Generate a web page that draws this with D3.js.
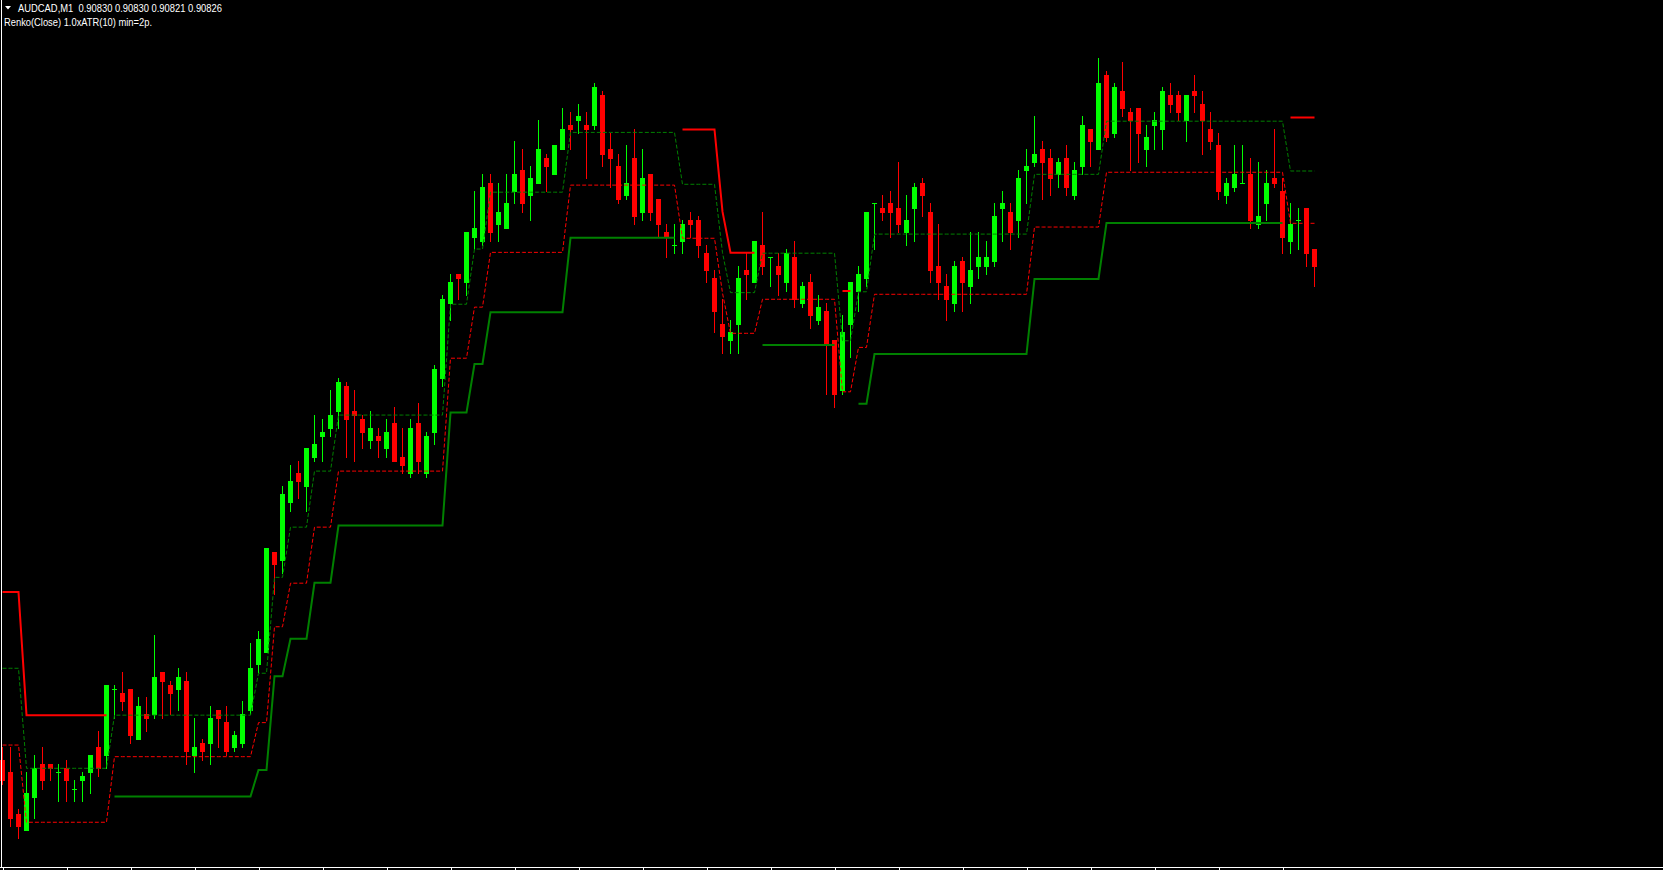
<!DOCTYPE html>
<html><head><meta charset="utf-8">
<script src="https://cdn.jsdelivr.net/npm/d3@7"></script>
<style>
html,body{margin:0;padding:0;background:#000;overflow:hidden}
svg{display:block}
</style></head><body>
<svg id="chart" width="1663" height="870"></svg>
<script>
// ---- data ----
const symbolTitle = "AUDCAD,M1";
const indicatorLabel = "Renko(Close) 1.0xATR(10) min=2p.";

const open = [0.90707,0.90704,0.90694,0.90690,0.90698,0.90706,0.90706,0.90704,0.90705,0.90700,
0.90702,0.90704,0.90710,0.90708,0.90724,0.90723,0.90724,0.90712,0.90718,0.90718,
0.90728,0.90725,0.90724,0.90726,0.90708,0.90711,0.90711,0.90719,0.90716,0.90710,
0.90711,0.90719,0.90730,0.90733,0.90757,0.90755,0.90769,0.90776,0.90773,0.90780,
0.90785,0.90787,0.90791,0.90797,0.90791,0.90789,0.90784,0.90785,0.90782,0.90788,
0.90780,0.90776,0.90788,0.90776,0.90786,0.90799,0.90817,0.90824,0.90822,0.90833,
0.90832,0.90846,0.90836,0.90835,0.90844,0.90849,0.90843,0.90846,0.90852,0.90848,
0.90854,0.90860,0.90861,0.90860,0.90860,0.90867,0.90854,0.90850,0.90843,0.90852,
0.90839,0.90848,0.90842,0.90834,0.90831,0.90832,0.90837,0.90837,0.90829,0.90823,
0.90812,0.90808,0.90812,0.90825,0.90822,0.90831,0.90828,0.90826,0.90822,0.90828,
0.90817,0.90822,0.90813,0.90815,0.90808,0.90796,0.90812,0.90820,0.90823,0.90841,
0.90840,0.90841,0.90840,0.90834,0.90840,0.90846,0.90839,0.90826,0.90821,0.90817,
0.90827,0.90821,0.90826,0.90826,0.90827,0.90840,0.90839,0.90837,0.90849,0.90851,
0.90854,0.90852,0.90848,0.90852,0.90843,0.90850,0.90859,0.90854,0.90872,0.90858,
0.90868,0.90863,0.90864,0.90854,0.90860,0.90859,0.90867,0.90867,0.90861,0.90868,
0.90865,0.90859,0.90855,0.90843,0.90845,0.90846,0.90848,0.90836,0.90841,0.90847,
0.90844,0.90832,0.90837,0.90840,0.90830];
const high = [0.90710,0.90710,0.90695,0.90704,0.90708,0.90710,0.90706,0.90706,0.90707,0.90702,
0.90704,0.90708,0.90714,0.90725,0.90725,0.90728,0.90724,0.90722,0.90722,0.90737,
0.90728,0.90726,0.90729,0.90728,0.90717,0.90712,0.90720,0.90719,0.90720,0.90714,
0.90721,0.90735,0.90738,0.90758,0.90757,0.90773,0.90778,0.90779,0.90782,0.90790,
0.90789,0.90796,0.90799,0.90798,0.90796,0.90790,0.90791,0.90787,0.90789,0.90792,
0.90787,0.90789,0.90793,0.90786,0.90802,0.90819,0.90824,0.90824,0.90834,0.90844,
0.90848,0.90848,0.90846,0.90848,0.90856,0.90854,0.90850,0.90861,0.90853,0.90855,
0.90864,0.90863,0.90865,0.90863,0.90870,0.90868,0.90858,0.90853,0.90855,0.90859,
0.90854,0.90848,0.90842,0.90836,0.90836,0.90837,0.90839,0.90838,0.90831,0.90825,
0.90818,0.90813,0.90826,0.90829,0.90832,0.90839,0.90828,0.90829,0.90830,0.90832,
0.90822,0.90824,0.90819,0.90817,0.90808,0.90814,0.90822,0.90826,0.90839,0.90841,
0.90843,0.90844,0.90851,0.90843,0.90846,0.90847,0.90841,0.90836,0.90824,0.90827,
0.90828,0.90834,0.90834,0.90832,0.90841,0.90844,0.90841,0.90849,0.90854,0.90862,
0.90856,0.90854,0.90852,0.90855,0.90851,0.90862,0.90859,0.90876,0.90873,0.90870,
0.90875,0.90864,0.90864,0.90860,0.90863,0.90869,0.90870,0.90868,0.90867,0.90872,
0.90868,0.90863,0.90858,0.90847,0.90855,0.90855,0.90852,0.90851,0.90849,0.90859,
0.90847,0.90841,0.90840,0.90840,0.90830];
const low = [0.90701,0.90691,0.90688,0.90690,0.90693,0.90700,0.90702,0.90697,0.90697,0.90697,
0.90697,0.90699,0.90703,0.90705,0.90717,0.90719,0.90711,0.90712,0.90714,0.90717,
0.90717,0.90718,0.90719,0.90706,0.90704,0.90707,0.90706,0.90710,0.90708,0.90709,
0.90710,0.90718,0.90728,0.90733,0.90747,0.90752,0.90767,0.90770,0.90767,0.90779,
0.90779,0.90785,0.90787,0.90780,0.90779,0.90782,0.90782,0.90780,0.90780,0.90779,
0.90776,0.90775,0.90776,0.90775,0.90783,0.90797,0.90813,0.90818,0.90819,0.90830,
0.90831,0.90832,0.90832,0.90835,0.90841,0.90839,0.90837,0.90846,0.90844,0.90848,
0.90854,0.90854,0.90858,0.90847,0.90859,0.90850,0.90845,0.90841,0.90842,0.90836,
0.90837,0.90837,0.90833,0.90828,0.90829,0.90829,0.90833,0.90828,0.90822,0.90810,
0.90805,0.90805,0.90805,0.90818,0.90822,0.90824,0.90821,0.90819,0.90820,0.90816,
0.90816,0.90811,0.90812,0.90795,0.90792,0.90795,0.90804,0.90815,0.90821,0.90830,
0.90837,0.90833,0.90834,0.90831,0.90832,0.90838,0.90822,0.90818,0.90813,0.90815,
0.90815,0.90817,0.90823,0.90824,0.90826,0.90832,0.90830,0.90833,0.90841,0.90850,
0.90842,0.90843,0.90845,0.90843,0.90842,0.90848,0.90850,0.90854,0.90856,0.90857,
0.90862,0.90849,0.90851,0.90850,0.90854,0.90854,0.90863,0.90861,0.90856,0.90863,
0.90853,0.90854,0.90842,0.90841,0.90844,0.90846,0.90835,0.90835,0.90837,0.90845,
0.90829,0.90829,0.90830,0.90826,0.90821];
const close = [0.90702,0.90693,0.90691,0.90699,0.90705,0.90702,0.90705,0.90704,0.90702,0.90700,
0.90703,0.90708,0.90705,0.90725,0.90724,0.90721,0.90713,0.90720,0.90717,0.90727,
0.90726,0.90723,0.90727,0.90709,0.90710,0.90709,0.90717,0.90717,0.90709,0.90713,
0.90718,0.90729,0.90736,0.90758,0.90754,0.90771,0.90774,0.90774,0.90782,0.90783,
0.90786,0.90790,0.90798,0.90789,0.90790,0.90786,0.90787,0.90784,0.90786,0.90779,
0.90778,0.90787,0.90779,0.90785,0.90801,0.90818,0.90822,0.90823,0.90834,0.90835,
0.90845,0.90834,0.90839,0.90841,0.90848,0.90841,0.90847,0.90854,0.90850,0.90855,
0.90859,0.90859,0.90862,0.90859,0.90869,0.90853,0.90852,0.90842,0.90846,0.90838,
0.90847,0.90839,0.90836,0.90833,0.90831,0.90836,0.90836,0.90831,0.90825,0.90815,
0.90809,0.90810,0.90823,0.90824,0.90832,0.90826,0.90828,0.90824,0.90829,0.90818,
0.90821,0.90814,0.90816,0.90807,0.90795,0.90810,0.90822,0.90824,0.90839,0.90841,
0.90839,0.90839,0.90836,0.90837,0.90845,0.90843,0.90825,0.90822,0.90818,0.90826,
0.90822,0.90825,0.90828,0.90828,0.90838,0.90841,0.90834,0.90847,0.90850,0.90853,
0.90851,0.90847,0.90851,0.90845,0.90849,0.90860,0.90856,0.90870,0.90857,0.90869,
0.90864,0.90861,0.90858,0.90857,0.90861,0.90868,0.90865,0.90863,0.90867,0.90867,
0.90861,0.90856,0.90844,0.90846,0.90848,0.90846,0.90837,0.90838,0.90846,0.90846,
0.90833,0.90836,0.90837,0.90829,0.90826];

// Renko indicator levels as steps: [first bar, last bar, price]
const renkoSolidRed = [[0,2,0.907474],[3,13,0.907177],[85,89,0.908588],[90,90,0.908390],[91,94,0.908291],
  [105,106,0.908199],[161,164,0.908617]];
const renkoSolidGreen = [[14,31,0.906981],[32,33,0.907045],[34,35,0.907271],[36,38,0.907361],[39,41,0.907496],
  [42,55,0.907634],[56,58,0.907906],[59,60,0.908023],[61,70,0.908148],[71,84,0.908327],[95,104,0.908069],
  [107,108,0.907927],[109,128,0.908047],[129,137,0.908228],[138,160,0.908363]];
const renkoDashGreen = [[0,2,0.907290],[3,13,0.907049],[14,31,0.907177],[32,33,0.907278],[34,35,0.907509],
  [36,38,0.907630],[39,41,0.907765],[42,55,0.907900],[56,58,0.908167],[59,60,0.908300],[61,70,0.908437],
  [71,84,0.908581],[85,89,0.908456],[90,90,0.908291],[91,94,0.908195],[95,104,0.908290],[105,106,0.908079],
  [107,108,0.908197],[109,128,0.908336],[129,137,0.908480],[138,160,0.908608],[161,164,0.908488]];
const renkoDashRed = [[0,2,0.907105],[3,13,0.906919],[14,31,0.907077],[32,33,0.907159],[34,35,0.907390],
  [36,38,0.907495],[39,41,0.907630],[42,55,0.907765],[56,58,0.908037],[59,60,0.908160],[61,70,0.908292],
  [71,84,0.908454],[85,89,0.908326],[90,90,0.908194],[91,94,0.908097],[95,104,0.908179],[105,106,0.907956],
  [107,108,0.908063],[109,128,0.908191],[129,137,0.908353],[138,160,0.908485],[161,164,0.908362]];

const timeTickBars = [0,8,16,24,32,40,48,56,64,72,80,88,96,104,112,120,128,136,144,152,160];

// ---- chart ----
const W = 1663, H = 870, bottomY = 867.5;
const svg = d3.select("#chart");
svg.append("rect").attr("width", W).attr("height", H).attr("fill", "#000");

const n = open.length;
const x = d3.scaleLinear().domain([0, n - 1]).range([2.5, 2.5 + 8 * (n - 1)]);
const y = d3.scaleLinear().domain([0.906810, 0.908900]).range([bottomY, 0]);

const bars = open.map((o, i) => ({ i, o, h: high[i], l: low[i], c: close[i] }));
const col = d => d.c >= d.o ? "#00ff00" : "#ff0000";

const gC = svg.append("g").attr("shape-rendering", "crispEdges");
gC.selectAll("line.wick").data(bars).join("line")
  .attr("class", "wick")
  .attr("x1", d => x(d.i)).attr("x2", d => x(d.i))
  .attr("y1", d => Math.round(y(d.h))).attr("y2", d => Math.round(y(d.l)) + 1)
  .attr("stroke", col).attr("stroke-width", 1);
gC.selectAll("rect.body").data(bars).join("rect")
  .attr("class", "body")
  .attr("x", d => x(d.i) - 2.5).attr("width", 5)
  .attr("y", d => Math.round(y(Math.max(d.o, d.c))))
  .attr("height", d => Math.max(1, Math.round(y(Math.min(d.o, d.c))) - Math.round(y(Math.max(d.o, d.c))) + 1))
  .attr("fill", col);

function expand(steps) {
  const arr = new Array(n).fill(null);
  steps.forEach(([a, b, v]) => { for (let i = a; i <= b; i++) arr[i] = v; });
  return arr.map((v, i) => ({ i, v }));
}
const lineGen = d3.line().defined(d => d.v != null).x(d => x(d.i)).y(d => y(d.v));

const gL = svg.append("g");
gL.append("path").attr("d", lineGen(expand(renkoDashGreen)))
  .attr("fill", "none").attr("stroke", "#008000").attr("stroke-width", 1).attr("stroke-dasharray", "4,2");
gL.append("path").attr("d", lineGen(expand(renkoDashRed)))
  .attr("fill", "none").attr("stroke", "#ff0000").attr("stroke-width", 1).attr("stroke-dasharray", "4,2");
gL.append("path").attr("d", lineGen(expand(renkoSolidGreen)))
  .attr("fill", "none").attr("stroke", "#008000").attr("stroke-width", 2);
gL.append("path").attr("d", lineGen(expand(renkoSolidRed)))
  .attr("fill", "none").attr("stroke", "#ff0000").attr("stroke-width", 2);

// frame
svg.append("line").attr("x1", 1.5).attr("x2", 1.5).attr("y1", 0).attr("y2", bottomY + 0.5)
  .attr("stroke", "#fff").attr("stroke-width", 1).attr("shape-rendering", "crispEdges");
svg.append("line").attr("x1", 0).attr("x2", W).attr("y1", bottomY).attr("y2", bottomY)
  .attr("stroke", "#fff").attr("stroke-width", 1).attr("shape-rendering", "crispEdges");
const axis = d3.axisBottom(x).tickValues(timeTickBars).tickSize(3).tickFormat("");
const gA = svg.append("g").attr("transform", `translate(0,${bottomY})`).call(axis);
gA.select(".domain").remove();
gA.selectAll(".tick line").attr("stroke", "#fff").attr("shape-rendering", "crispEdges");

// header
const last = n - 1;
const fmt = d3.format(".5f");
svg.append("path").attr("d", "M5,6 L11,6 L8,9.5 Z").attr("fill", "#fff");
svg.append("text").attr("x", 18).attr("y", 12)
  .attr("fill", "#fff").attr("font-family", "'Liberation Sans', Arial, sans-serif").attr("font-size", 10.5)
  .attr("textLength", 204).attr("lengthAdjust", "spacingAndGlyphs").style("white-space", "pre")
  .text(`${symbolTitle}  ${fmt(open[last])} ${fmt(high[last])} ${fmt(low[last])} ${fmt(close[last])}`);
svg.append("text").attr("x", 4).attr("y", 26)
  .attr("fill", "#fff").attr("font-family", "'Liberation Sans', Arial, sans-serif").attr("font-size", 10.5)
  .attr("textLength", 148).attr("lengthAdjust", "spacingAndGlyphs")
  .text(indicatorLabel);
</script>
</body></html>
